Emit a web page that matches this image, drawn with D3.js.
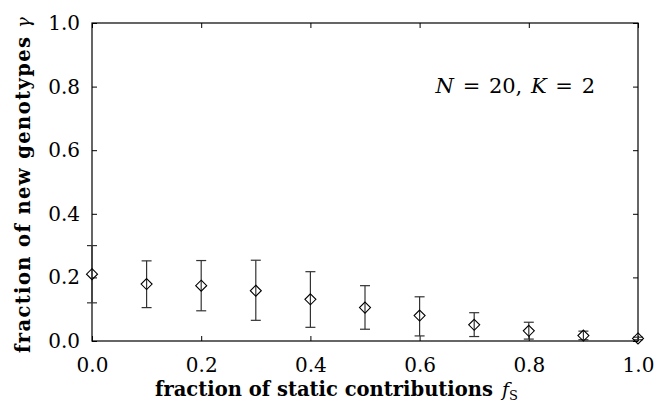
<!DOCTYPE html>
<html><head><meta charset="utf-8">
<script src="https://cdn.jsdelivr.net/npm/d3@7"></script>
<style>body{margin:0;background:#fff}svg{display:block}</style>
</head><body>
<svg id="c" width="657" height="407"></svg>
<script>
const fS = [0.0,0.1,0.2,0.3,0.4,0.5,0.6,0.7,0.8,0.9,1.0];
const gammaMean = [0.210,0.179,0.174,0.158,0.131,0.105,0.080,0.051,0.032,0.017,0.008];
const gammaHigh = [0.300,0.252,0.253,0.254,0.218,0.174,0.139,0.089,0.059,0.031,0.012];
const gammaLow  = [0.120,0.105,0.095,0.065,0.043,0.037,0.016,0.014,0.006,0.004,0.004];
const xTicks = [0,0.2,0.4,0.6,0.8,1.0];
const yTicks = [0,0.2,0.4,0.6,0.8,1.0];

(function(){
const svg = d3.select("#c");
const L=92,R=638,T=23,B=341;
const x = d3.scaleLinear().domain([0,1]).range([L,R]);
const y = d3.scaleLinear().domain([0,1]).range([B,T]);
const serif = "DejaVu Serif, Liberation Serif, serif";

svg.append("rect").attr("x",L).attr("y",T).attr("width",R-L).attr("height",B-T)
  .attr("fill","none").attr("stroke","#000").attr("stroke-width",1.2);

const tl=5;
const axB = d3.axisBottom(x).tickValues(xTicks).tickFormat(d3.format(".1f")).tickSizeInner(-tl).tickSizeOuter(0).tickPadding(17);
const axL = d3.axisLeft(y).tickValues(yTicks).tickFormat(d3.format(".1f")).tickSizeInner(-tl).tickSizeOuter(0).tickPadding(12);
const axT = d3.axisTop(x).tickValues(xTicks).tickFormat("").tickSizeInner(-tl).tickSizeOuter(0);
const axR = d3.axisRight(y).tickValues(yTicks).tickFormat("").tickSizeInner(-tl).tickSizeOuter(0);

function style(g){
  g.select(".domain").remove();
  g.selectAll("line").attr("stroke","#000").attr("stroke-width",1);
  g.selectAll("text").style("font-family",serif).attr("font-size",20).attr("fill","#000");
}
svg.append("g").attr("transform",`translate(0,${B})`).call(axB).call(style);
svg.append("g").attr("transform",`translate(${L},0)`).call(axL).call(style);
svg.append("g").attr("transform",`translate(0,${T})`).call(axT).call(style);
svg.append("g").attr("transform",`translate(${R},0)`).call(axR).call(style);

const data = fS.map((f,i)=>({f,m:gammaMean[i],hi:gammaHigh[i],lo:gammaLow[i]}));
const eb = svg.append("g").attr("stroke","#333").attr("stroke-width",1.2);
const cw=5;
data.forEach(d=>{
  eb.append("line").attr("x1",x(d.f)).attr("x2",x(d.f)).attr("y1",y(d.hi)).attr("y2",y(d.lo));
  eb.append("line").attr("x1",x(d.f)-cw).attr("x2",x(d.f)+cw).attr("y1",y(d.hi)).attr("y2",y(d.hi));
  eb.append("line").attr("x1",x(d.f)-cw).attr("x2",x(d.f)+cw).attr("y1",y(d.lo)).attr("y2",y(d.lo));
});
const s=5.5;
svg.append("g").selectAll("path").data(data).join("path")
  .attr("d",d=>`M${x(d.f)},${y(d.m)-s}L${x(d.f)+s},${y(d.m)}L${x(d.f)},${y(d.m)+s}L${x(d.f)-s},${y(d.m)}Z`)
  .attr("fill","none").attr("stroke","#000").attr("stroke-width",1.1);

svg.append("text").attr("x",155).attr("y",396).attr("text-anchor","start")
  .style("font-family",serif).attr("font-size",19.5).attr("font-weight","bold")
  .attr("textLength",338).attr("lengthAdjust","spacing")
  .text("fraction of static contributions");
const xs = svg.append("text").attr("x",502).attr("y",396).style("font-family",serif).attr("font-size",19);
xs.append("tspan").attr("font-style","italic").text("f");
xs.append("tspan").attr("font-size",13).attr("dy",4).text("S");

svg.append("text").attr("transform",`translate(30,353) rotate(-90)`).attr("text-anchor","start")
  .style("font-family",serif).attr("font-size",19.5).attr("font-weight","bold")
  .attr("textLength",316).attr("lengthAdjust","spacing")
  .text("fraction of new genotypes");
svg.append("text").attr("transform",`translate(30,28) rotate(-90)`).attr("text-anchor","start")
  .style("font-family",serif).attr("font-size",18).attr("font-style","italic").text("γ");

const an = svg.append("text").attr("x",595).attr("y",93).attr("text-anchor","end")
  .style("font-family",serif).attr("font-size",21).attr("word-spacing",2);
an.append("tspan").attr("font-style","italic").text("N");
an.append("tspan").text(" = 20, ");
an.append("tspan").attr("font-style","italic").text("K");
an.append("tspan").text(" = 2");
})();
</script>
</body></html>
